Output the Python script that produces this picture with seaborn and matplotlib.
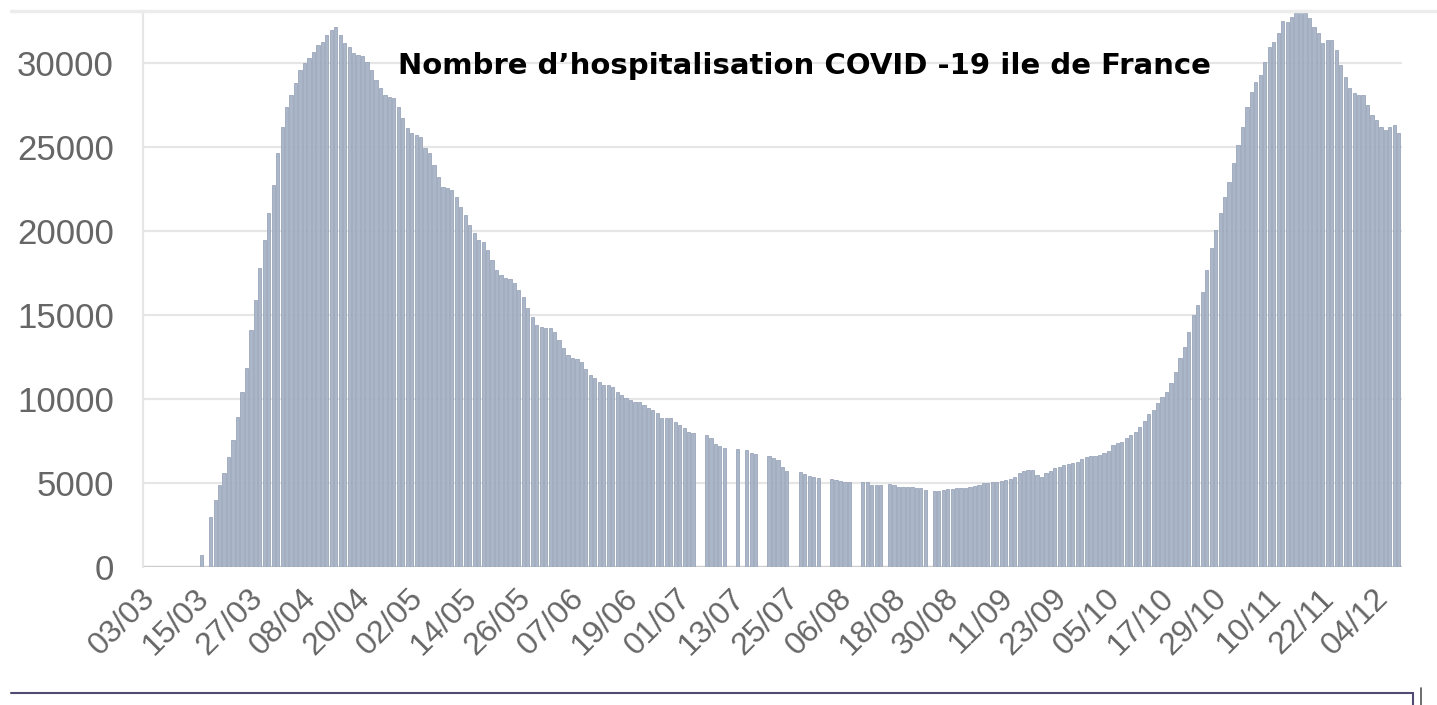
import numpy as np
import pandas as pd
import matplotlib
matplotlib.use("Agg")
import matplotlib.pyplot as plt
import matplotlib.transforms as mtransforms
from matplotlib.lines import Line2D
import seaborn as sns

# ─── DATA (one value per day from 03/03, None = no bar) ──────────────────────
mars = [None, None, None, None, None, None, None, None, None, None,
        None, None, 700, None, 2980, 3975, 4870, 5570, 6560, 7550,
        8940, 10430, 11830, 14110, 15900, 17790, 19470, 21060, 22750]
avril = [24640, 26220, 27420, 28110, 28810, 29600, 30000, 30300, 30690, 31090,
         31290, 31690, 31990, 32180, 31690, 31200, 30990, 30600, 30500, 30450,
         30100, 29600, 29010, 28510, 28110, 28010, 27920, 27420, 26720, 26130]
mai = [25830, 25730, 25630, 24940, 24640, 23940, 23240, 22650, 22550, 22450,
       22050, 21460, 20960, 20370, 19870, 19470, 19370, 18900, 18280, 17680,
       17390, 17190, 17150, 16900, 16500, 16100, 15400, 14900, 14400, 14270,
       14250]
juin = [14200, 14010, 13500, 13020, 12620, 12420, 12400, 12220, 11800, 11430,
        11230, 11030, 10830, 10820, 10680, 10430, 10230, 10040, 9940, 9800,
        9790, 9640, 9450, 9340, 9140, 8880, 8850, 8840, 8640, 8450]
juillet = [8250, 8050, 7950, None, None, 7850, 7650, 7310, 7190, 7060,
           None, None, 7000, None, 6960, 6800, 6700, None, None, 6600,
           6460, 6360, 5920, 5700, None, None, 5660, 5530, 5420, 5360,
           5270]
aout = [None, None, 5210, 5190, 5110, 5070, 5030, None, None, 5070,
        5030, 4870, 4850, 4850, None, 4930, 4870, 4770, 4770, 4730,
        4730, 4710, 4670, 4570, None, 4510, 4520, 4550, 4600, 4630,
        4670]
septembre = [4700, 4680, 4770, 4820, 4870, 4970, 5010, 5030, 5070, 5130,
             5170, 5210, 5360, 5570, 5720, 5760, 5760, 5470, 5360, 5570,
             5720, 5870, 5960, 6060, 6100, 6160, 6250, 6400, 6520, 6580]
octobre = [6620, 6660, 6750, 6910, 7250, 7350, 7450, 7650, 7850, 8050,
           8350, 8700, 9100, 9340, 9740, 10130, 10430, 10930, 11620, 12420,
           13110, 14010, 15000, 15600, 16390, 17680, 18980, 20070, 21060, 22050,
           22950]
novembre = [24040, 25130, 26220, 27420, 28310, 28910, 29310, 30100, 30990, 31290,
            31790, 32540, 32480, 32780, 32980, 33080, 32980, 32680, 32180, 31790,
            31200, 31390, 31390, 30800, 29900, 29200, 28510, 28210, 28110, 28110]
decembre = [27520, 26920, 26620, 26220, 26030, 26220, 26320, 25830]

tick_labels = ["03/03", "15/03", "27/03", "08/04", "20/04", "02/05", "14/05",
               "26/05", "07/06", "19/06", "01/07", "13/07", "25/07", "06/08",
               "18/08", "30/08", "11/09", "23/09", "05/10", "17/10", "29/10",
               "10/11", "22/11", "04/12"]
y_ticks = [0, 5000, 10000, 15000, 20000, 25000, 30000]

TITLE = "Nombre d\u2019hospitalisation COVID -19 ile de France"

values = mars + avril + mai + juin + juillet + aout + septembre + octobre + novembre + decembre
days = list(pd.date_range("2020-03-03", periods=len(values), freq="D").strftime("%d/%m"))
df = pd.DataFrame({"jour": days, "hosp": pd.array(values, dtype="Float64").astype(float)})

# ─── STYLE ────────────────────────────────────────────────────────────────────
sns.set_theme(style="white")
plt.rcParams["font.family"] = ["Liberation Sans", "DejaVu Sans"]

BAR = "#abb7c9"
EDGE = "#8f9cb2"
GRID = "#e6e6e6"
TXT = "#666666"

fig = plt.figure(figsize=(14.37, 7.05), dpi=100)
ax = fig.add_axes([0.0995, 0.1962, 0.8761, 0.7882])

sns.barplot(data=df, x="jour", y="hosp", order=days, color=BAR,
            saturation=1, edgecolor=EDGE, linewidth=0.5, width=0.72,
            errorbar=None, ax=ax, zorder=3)

ax.set_xlim(-1.16, 280.7)
ax.set_ylim(0, 33117)
ax.set_xlabel("")
ax.set_ylabel("")

ax.set_yticks(y_ticks)
ax.set_yticklabels([str(v) for v in y_ticks])
ax.set_xticks(range(0, 12 * len(tick_labels), 12))
ax.set_xticklabels(tick_labels, rotation=45, ha="right", rotation_mode="anchor")

ax.tick_params(axis="y", length=18, width=1.6, color=GRID, pad=3,
               labelsize=25, labelcolor=TXT)
ax.tick_params(axis="x", length=0, pad=12, labelsize=23, labelcolor=TXT)

shift = mtransforms.ScaledTranslation(-8 / 100, 0, fig.dpi_scale_trans)
for lbl in ax.get_xticklabels():
    lbl.set_transform(lbl.get_transform() + shift)

ax.yaxis.grid(True, color=GRID, linewidth=1.6, zorder=0)
ax.xaxis.grid(False)
ax.axhline(0, color="#cccccc", linewidth=1.6, zorder=2)
for side in ["top", "right", "bottom"]:
    ax.spines[side].set_visible(False)
ax.spines["left"].set_color(GRID)
ax.spines["left"].set_linewidth(1.6)

fig.text(0.5595, 0.906, TITLE, ha="center", va="center", fontsize=21,
         fontweight="bold", color="black", family="DejaVu Sans")

# frame remains of the screenshot
fig.add_artist(Line2D([0.0077, 1.0], [0.9844, 0.9844], color="#ececec", lw=2.5))
fig.add_artist(Line2D([0.0077, 0.9833], [0.017, 0.017], color="#4f4b72", lw=1.5))
fig.add_artist(Line2D([0.9833, 0.9833], [0.0, 0.017], color="#4f4b72", lw=1.5))
fig.add_artist(Line2D([0.9889, 0.9889], [0.0, 0.024], color="#555555", lw=1.2))

fig.savefig("out.png", dpi=100)
plt.close(fig)
